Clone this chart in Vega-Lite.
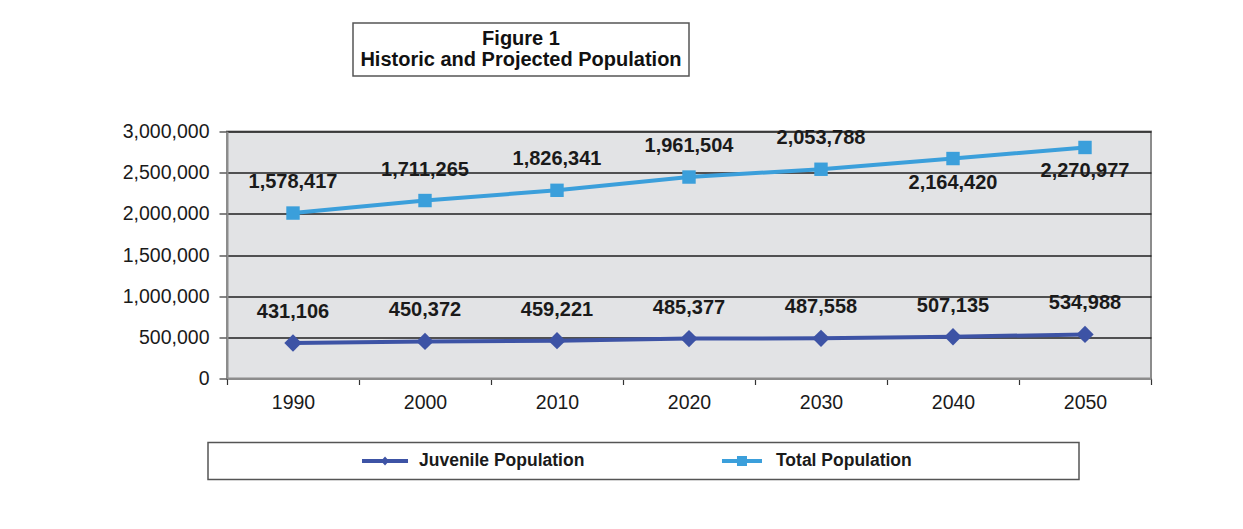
{
  "$schema": "https://vega.github.io/schema/vega-lite/v6.json",
  "padding": {"left": 100, "top": 22, "right": 0, "bottom": 0},
  "background": "white",
  "config": {
    "font": "Liberation Sans",
    "view": {"stroke": null},
    "axis": {"labelFont": "Liberation Sans", "labelColor": "#1a1a1a"}
  },
  "datasets": {
    "pop": [
      {"year": "1990", "series": "Juvenile Population", "value": 431106},
      {"year": "2000", "series": "Juvenile Population", "value": 450372},
      {"year": "2010", "series": "Juvenile Population", "value": 459221},
      {"year": "2020", "series": "Juvenile Population", "value": 485377},
      {"year": "2030", "series": "Juvenile Population", "value": 487558},
      {"year": "2040", "series": "Juvenile Population", "value": 507135},
      {"year": "2050", "series": "Juvenile Population", "value": 534988},
      {"year": "1990", "series": "Total Population", "value": 1578417},
      {"year": "2000", "series": "Total Population", "value": 1711265},
      {"year": "2010", "series": "Total Population", "value": 1826341},
      {"year": "2020", "series": "Total Population", "value": 1961504},
      {"year": "2030", "series": "Total Population", "value": 2053788},
      {"year": "2040", "series": "Total Population", "value": 2164420},
      {"year": "2050", "series": "Total Population", "value": 2270977}
    ],
    "titleLines": [
      {"order": 1, "line": "Figure 1"},
      {"order": 2, "line": "Historic and Projected Population"}
    ],
    "legendEntries": [
      {"series": "Juvenile Population"},
      {"series": "Total Population"}
    ]
  },
  "spacing": 28.5,
  "vconcat": [
    {
      "spacing": 43.5,
      "vconcat": [
        {
          "spacing": 0,
          "hconcat": [
            {
              "width": 252, "height": 10,
              "data": {"values": [{}]},
              "mark": "text",
              "encoding": {"text": {"value": ""}}
            },
            {
              "width": 336, "height": 53,
              "view": {"stroke": "#555555", "strokeWidth": 1.5, "fill": "white"},
              "data": {"name": "titleLines"},
              "mark": {"type": "text", "fontWeight": "bold", "fontSize": 20, "color": "#111111"},
              "encoding": {
                "y": {"field": "order", "type": "ordinal", "axis": null, "scale": {"type": "point", "padding": 0.72}},
                "text": {"field": "line", "type": "nominal"}
              }
            }
          ]
        },
        {
          "spacing": 0,
          "hconcat": [
            {
              "width": 21, "height": 10,
              "data": {"values": [{}]},
              "mark": "text",
              "encoding": {"text": {"value": ""}}
            },
            {
              "width": 924, "height": 247,
              "view": {"fill": "#e2e3e5", "stroke": "#8c8c8c", "strokeWidth": 2},
              "data": {"name": "pop"},
              "transform": [
                {"stack": "value", "groupby": ["year"], "sort": [{"field": "series", "order": "ascending"}], "as": ["y0", "y1"]}
              ],
              "encoding": {
                "x": {
                  "field": "year", "type": "ordinal", "bandPosition": 0.5,
                  "scale": {"type": "band", "paddingInner": 0, "paddingOuter": 0},
                  "axis": {
                    "title": null, "labelAngle": 0, "labelFontSize": 19.5, "labelPadding": 9,
                    "tickBand": "extent", "tickSize": 6, "tickColor": "#333333", "tickWidth": 1.2,
                    "domainColor": "#8c8c8c", "domainWidth": 2, "grid": false
                  }
                },
                "y": {
                  "field": "y1", "type": "quantitative",
                  "scale": {"domain": [0, 3000000], "nice": false},
                  "axis": {
                    "title": null, "values": [0, 500000, 1000000, 1500000, 2000000, 2500000, 3000000],
                    "format": ",d", "labelFontSize": 19.5, "labelPadding": 10,
                    "tickSize": 8, "tickColor": "#333333", "tickWidth": 1.2,
                    "domainColor": "#8c8c8c", "domainWidth": 2,
                    "grid": true, "gridColor": "#1f1f1f", "gridWidth": 1.3
                  }
                },
                "color": {
                  "field": "series", "type": "nominal", "legend": null,
                  "scale": {"domain": ["Juvenile Population", "Total Population"], "range": ["#3d53a5", "#3b9fdb"]}
                }
              },
              "layer": [
                {"mark": {"type": "line", "strokeWidth": 4}},
                {
                  "transform": [{"filter": "datum.series == 'Juvenile Population'"}],
                  "mark": {"type": "point", "shape": "diamond", "filled": true, "opacity": 1, "size": 300}
                },
                {
                  "transform": [{"filter": "datum.series == 'Total Population'"}],
                  "mark": {"type": "point", "shape": "square", "filled": true, "opacity": 1, "size": 180}
                },
                {
                  "transform": [{"filter": "datum.series == 'Juvenile Population' || toNumber(datum.year) < 2040"}],
                  "mark": {"type": "text", "dy": -31, "fontSize": 20, "fontWeight": "bold", "color": "#1a1a1a"},
                  "encoding": {"text": {"field": "value", "type": "quantitative", "format": ",d"}, "color": {"value": "#1a1a1a"}}
                },
                {
                  "transform": [{"filter": "datum.series == 'Total Population' && toNumber(datum.year) >= 2040"}],
                  "mark": {"type": "text", "dy": 24, "fontSize": 20, "fontWeight": "bold", "color": "#1a1a1a"},
                  "encoding": {"text": {"field": "value", "type": "quantitative", "format": ",d"}, "color": {"value": "#1a1a1a"}}
                }
              ]
            }
          ]
        }
      ]
    },
    {
      "spacing": 0,
      "hconcat": [
        {
          "width": 107, "height": 10,
          "data": {"values": [{}]},
          "mark": "text",
          "encoding": {"text": {"value": ""}}
        },
        {
          "width": 871, "height": 37,
          "view": {"stroke": "#555555", "strokeWidth": 1.5, "fill": "white"},
          "data": {"name": "legendEntries"},
          "encoding": {
            "x": {"field": "series", "type": "nominal", "axis": null, "scale": {"type": "point", "padding": 0.72}}
          },
          "layer": [
            {
              "mark": {"type": "point", "filled": true, "opacity": 1, "size": 64, "xOffset": -80},
              "encoding": {
                "color": {
                  "field": "series", "type": "nominal", "legend": null,
                  "scale": {"domain": ["Juvenile Population", "Total Population"], "range": ["#3d53a5", "#3b9fdb"]}
                },
                "shape": {
                  "field": "series", "type": "nominal", "legend": null,
                  "scale": {
                    "domain": ["Juvenile Population", "Total Population"],
                    "range": [
                      "M-5.75,-0.5H5.75V0.5H-5.75Z M0,-1.1L1,0L0,1.1L-1,0Z",
                      "M-5,-0.5H5V0.5H-5Z M-1.25,-1.25H1.25V1.25H-1.25Z"
                    ]
                  }
                }
              }
            },
            {
              "mark": {"type": "text", "align": "left", "dx": -46, "fontSize": 17.5, "fontWeight": "bold", "color": "#1a1a1a"},
              "encoding": {"text": {"field": "series", "type": "nominal"}}
            }
          ]
        }
      ]
    }
  ],
  "resolve": {"scale": {"color": "independent", "shape": "independent", "x": "independent", "y": "independent"}}
}
